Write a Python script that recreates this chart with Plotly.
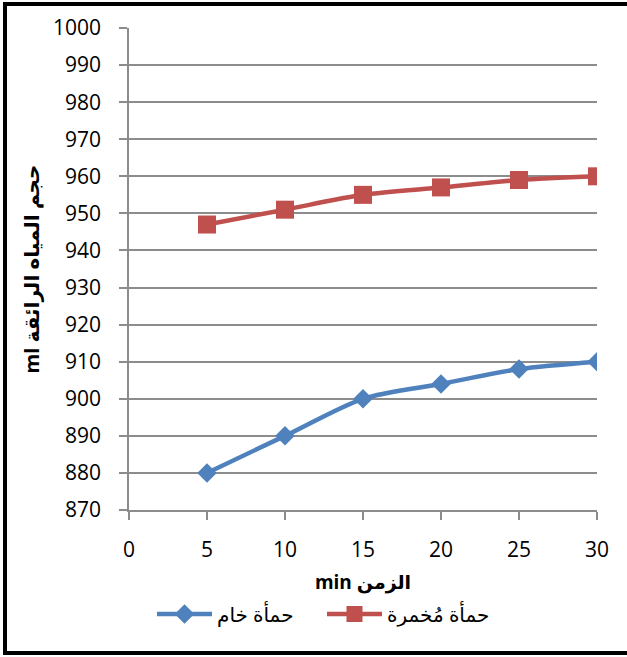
import plotly.graph_objects as go

# Settling time (min) and clear-water volume (ml)
time_min = [5, 10, 15, 20, 25, 30]
raw_sludge = [880, 890, 900, 904, 908, 910]
digested_sludge = [947, 951, 955, 957, 959, 960]

raw_name = "حمأة خام"
digested_name = "حمأة مُخمرة"
x_title = "min الزمن"
y_title = "ml حجم المياه الرائقة"

x_ticks = [0, 5, 10, 15, 20, 25, 30]
y_ticks = list(range(870, 1001, 10))

BLUE = "#4F81BD"
RED = "#C0504D"
GRID = "#8C8C8C"
FONT = "Open Sans, DejaVu Sans, sans-serif"

fig = go.Figure()
fig.add_trace(go.Scatter(
    x=time_min, y=raw_sludge, name=raw_name, mode="lines+markers",
    line=dict(color=BLUE, width=4.5, shape="spline", smoothing=0.8),
    marker=dict(symbol="diamond", size=15, color=BLUE),
))
fig.add_trace(go.Scatter(
    x=time_min, y=digested_sludge, name=digested_name, mode="lines+markers",
    line=dict(color=RED, width=4.5, shape="spline", smoothing=0.8),
    marker=dict(symbol="square", size=18, color=RED),
))

W, H = 627, 657
L, R, T, B = 129, 30, 28, 147
pw, ph = W - L - R, H - T - B


def px_x(v):
    return (v - L) / pw


def px_y(v):
    return (H - B - v) / ph


fig.update_layout(
    width=W, height=H,
    margin=dict(l=L, r=R, t=T, b=B),
    paper_bgcolor="white", plot_bgcolor="white",
    font=dict(family=FONT, color="black"),
    showlegend=True,
    legend=dict(
        orientation="h", x=px_x(152), y=px_y(614), xanchor="left", yanchor="middle",
        font=dict(size=20, family=FONT), itemwidth=55, entrywidth=100,
        traceorder="normal", bgcolor="rgba(0,0,0,0)",
    ),
    xaxis=dict(
        range=[0, 30], tickvals=x_ticks, showgrid=False, zeroline=False,
        showline=True, linecolor=GRID, linewidth=1.5,
        ticks="outside", ticklen=8, tickcolor=GRID, tickwidth=1.5,
        tickfont=dict(size=21, family=FONT), ticklabelstandoff=12,
        title=dict(text=x_title, font=dict(size=19, family=FONT, weight="bold"), standoff=14),
    ),
    yaxis=dict(
        range=[870, 1000], tickvals=y_ticks, showgrid=True, gridcolor=GRID, gridwidth=1.5,
        zeroline=False, showline=True, linecolor=GRID, linewidth=1.5,
        ticks="outside", ticklen=8, tickcolor=GRID, tickwidth=1.5,
        tickfont=dict(size=21, family=FONT), ticklabelstandoff=14,
        title=dict(text=y_title, font=dict(size=20, family=FONT, weight="bold"), standoff=8),
    ),
    shapes=[dict(
        type="rect", xref="paper", yref="paper",
        x0=px_x(5), x1=px_x(640), y0=px_y(653), y1=px_y(4),
        line=dict(color="black", width=4), fillcolor="rgba(0,0,0,0)", layer="above",
    )],
)

fig.write_html("out.html")
